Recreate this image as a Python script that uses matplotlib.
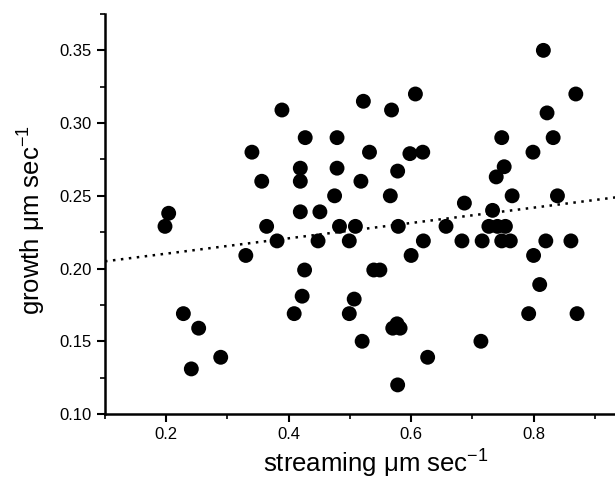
import matplotlib
matplotlib.use("Agg")
import matplotlib.pyplot as plt
from matplotlib.ticker import MultipleLocator

plt.rcParams['font.family'] = ['Liberation Sans', 'DejaVu Sans']
plt.rcParams['mathtext.fontset'] = 'custom'
plt.rcParams['mathtext.rm'] = 'Liberation Sans'

# streaming speed vs growth speed
streaming = [0.198, 0.204, 0.228, 0.241, 0.253, 0.289, 0.330, 0.340, 0.356, 0.364,
             0.381, 0.389, 0.409, 0.419, 0.419, 0.419, 0.422, 0.426, 0.427, 0.448,
             0.451, 0.475, 0.479, 0.479, 0.483, 0.499, 0.499, 0.507, 0.509, 0.518,
             0.520, 0.522, 0.532, 0.539, 0.549, 0.566, 0.568, 0.570, 0.577, 0.578,
             0.578, 0.579, 0.582, 0.598, 0.600, 0.607, 0.619, 0.620, 0.627, 0.657,
             0.683, 0.687, 0.714, 0.716, 0.727, 0.733, 0.739, 0.741, 0.748, 0.748,
             0.752, 0.754, 0.762, 0.765, 0.792, 0.799, 0.800, 0.810, 0.816, 0.820,
             0.822, 0.832, 0.839, 0.861, 0.869, 0.871]
growth = [0.229, 0.238, 0.169, 0.131, 0.159, 0.139, 0.209, 0.280, 0.260, 0.229,
          0.219, 0.309, 0.169, 0.269, 0.260, 0.239, 0.181, 0.199, 0.290, 0.219,
          0.239, 0.250, 0.290, 0.269, 0.229, 0.219, 0.169, 0.179, 0.229, 0.260,
          0.150, 0.315, 0.280, 0.199, 0.199, 0.250, 0.309, 0.159, 0.162, 0.267,
          0.120, 0.229, 0.159, 0.279, 0.209, 0.320, 0.280, 0.219, 0.139, 0.229,
          0.219, 0.245, 0.150, 0.219, 0.229, 0.240, 0.263, 0.229, 0.290, 0.219,
          0.270, 0.229, 0.219, 0.250, 0.169, 0.280, 0.209, 0.189, 0.350, 0.219,
          0.307, 0.290, 0.250, 0.219, 0.320, 0.169]

# linear fit shown as dotted line
fit_intercept = 0.1997
fit_slope = 0.0527
fit_x = [0.1, 0.935]

fig = plt.figure(figsize=(6.15, 4.78), dpi=100)
ax = fig.add_axes([105 / 615, 64 / 478, 510 / 615, 400 / 478])

ax.scatter(streaming, growth, s=115, color='black', edgecolors='none', zorder=3)
ax.plot(fit_x, [fit_intercept + fit_slope * v for v in fit_x],
        color='black', linestyle=(0, (1, 2.2)), linewidth=1.8)

ax.set_xlim(0.1, 0.933)
ax.set_ylim(0.10, 0.375)
ax.xaxis.set_major_locator(MultipleLocator(0.2))
ax.xaxis.set_minor_locator(MultipleLocator(0.1))
ax.yaxis.set_major_locator(MultipleLocator(0.05))
ax.yaxis.set_minor_locator(MultipleLocator(0.025))
ax.xaxis.set_major_formatter(matplotlib.ticker.FormatStrFormatter('%.1f'))
ax.yaxis.set_major_formatter(matplotlib.ticker.FormatStrFormatter('%.2f'))

ax.spines['top'].set_visible(False)
ax.spines['right'].set_visible(False)
ax.spines['left'].set_linewidth(1.8)
ax.spines['bottom'].set_linewidth(1.8)
ax.tick_params(which='major', direction='out', length=6, width=1.5, labelsize=12)
ax.tick_params(which='minor', direction='out', length=3.5, width=1.2)

ax.set_xlabel('streaming μm sec$^{-1}$', fontsize=18.5)
ax.set_ylabel('growth μm sec$^{-1}$', fontsize=18.5)
ax.xaxis.set_label_coords((376 - 105) / 510, -(446 - 414) / 400)
ax.yaxis.set_label_coords(-(105 - 47) / 510, (414 - 220) / 400)

fig.savefig('out.png', dpi=100)
